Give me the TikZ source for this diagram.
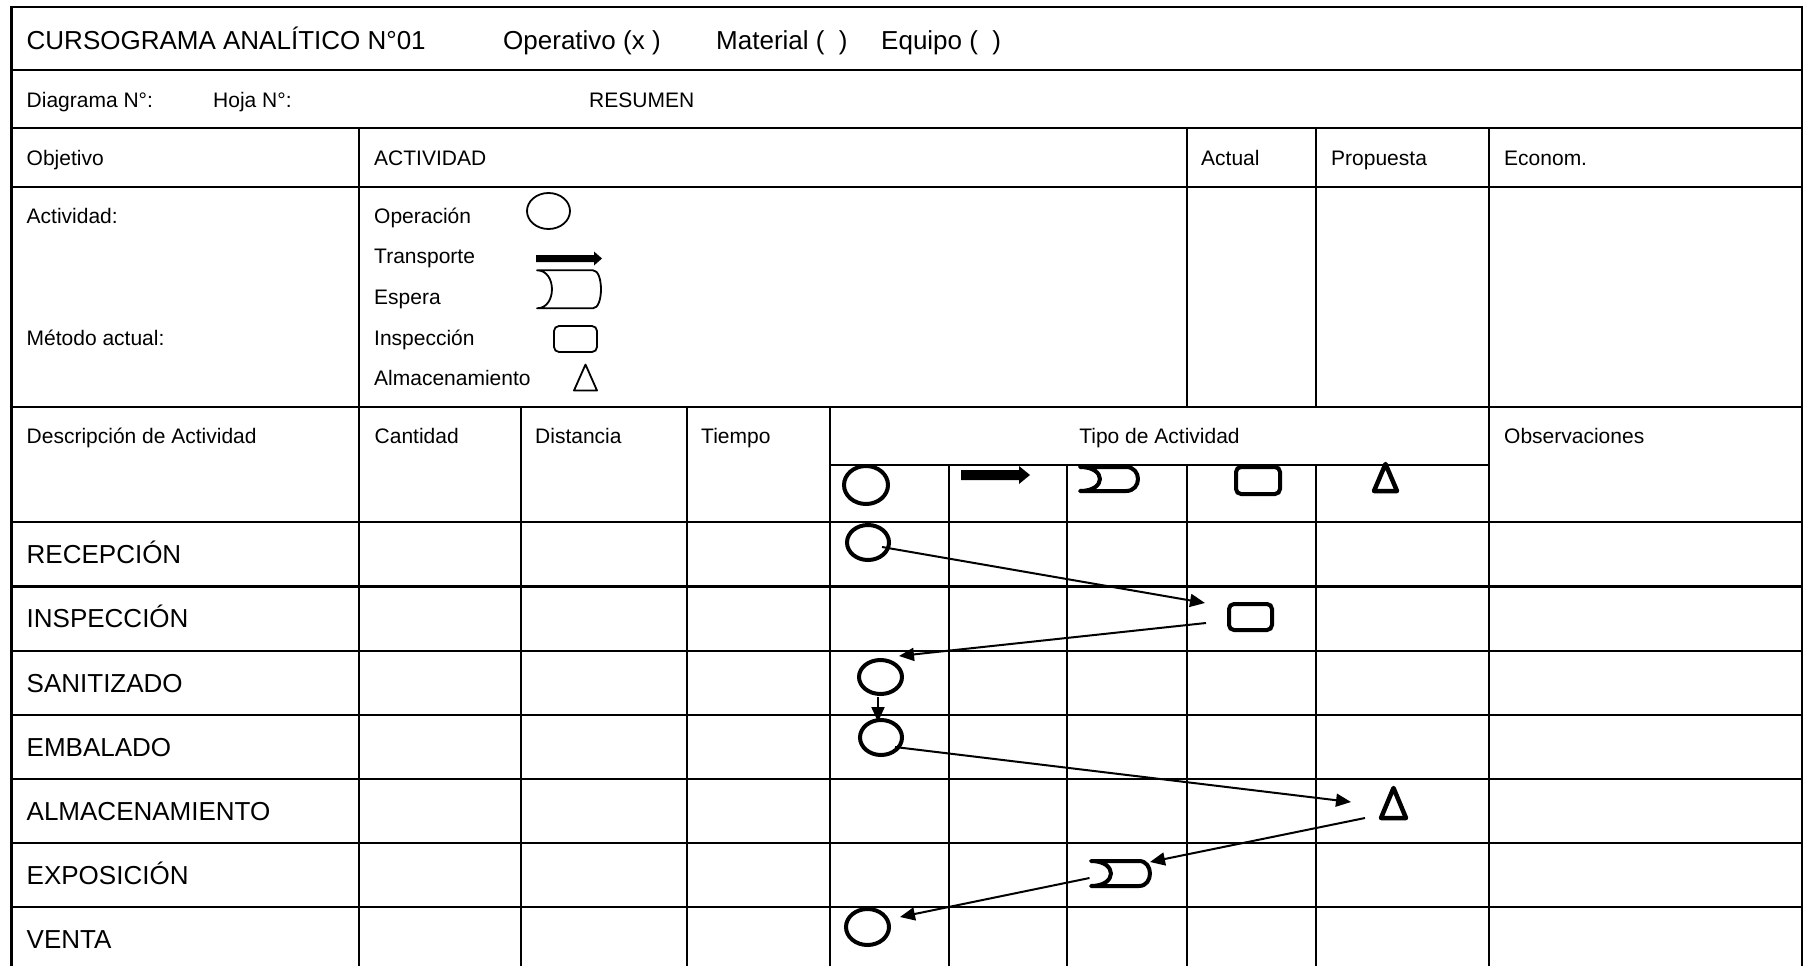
\documentclass[tikz,border=0pt]{standalone}
\usepackage{fontspec}
\setmainfont{Liberation Sans}
\usetikzlibrary{arrows.meta,calc,shapes.geometric}
% delay symbol drawn on a named box node: #1 name, #2 left depth, #3 right bulge, #4 line width
\newcommand\delaysym[4]{%
  \draw[line width=#4, line join=round]
    (#1.north west) -- ($(#1.north east)+(-#3,0)$)
    .. controls ($(#1.north east)+(#3*0.33,0)$) and ($(#1.south east)+(#3*0.33,0)$) .. ($(#1.south east)+(-#3,0)$)
    -- (#1.south west)
    .. controls ($(#1.south west)+(#2*1.33,0)$) and ($(#1.north west)+(#2*1.33,0)$) .. cycle;}
% transport symbol: #1 name, #2 shaft thickness, #3 head width, #4 head length
\newcommand\transpsym[4]{%
  \fill ($(#1.west)+(0,-#2/2)$) -- ($(#1.east)+(-#4,-#2/2)$) -- ($(#1.east)+(-#4,-#3/2)$)
    -- (#1.east) -- ($(#1.east)+(-#4,#3/2)$) -- ($(#1.east)+(-#4,#2/2)$) -- ($(#1.west)+(0,#2/2)$) -- cycle;}
% storage symbol: #1 name, #2 line width
\newcommand\storesym[2]{%
  \draw[line width=#2, line join=round] (#1.north) -- (#1.south east) -- (#1.south west) -- cycle;}
\begin{document}
\begin{tikzpicture}[x=1pt,y=-1pt,
  grid/.style={line width=2.3pt},
  big/.style={anchor=base west, inner sep=0pt, font=\fontsize{26}{30}\selectfont},
  small/.style={anchor=base west, inner sep=0pt, font=\fontsize{21}{25}\selectfont},
  opsym/.style={ellipse, draw, inner sep=0pt, line width=4pt},
  opleg/.style={ellipse, draw, inner sep=0pt, line width=1.8pt},
  inssym/.style={rectangle, rounded corners=5pt, draw, inner sep=0pt, line width=4pt},
  insleg/.style={rectangle, rounded corners=5pt, draw, inner sep=0pt, line width=1.8pt},
  symbox/.style={inner sep=0pt, outer sep=0pt},
  flow/.style={line width=2pt, -{Triangle[length=15pt,width=13pt]}},
]
\useasboundingbox[fill=white] (0,0) rectangle (1808,966);

% ---------- grid ----------
\draw[grid] (11.5,966) -- (11.5,7) -- (1802,7) -- (1802,966);
\foreach \yy in {70,128,187,407,522,586.5,651,715,779,843,907}
  \draw[grid] (11.5,\yy) -- (1802,\yy);
\draw[grid] (830,465) -- (1489,465);
\draw[grid] (359,128) -- (359,966);
\draw[grid] (1489,128) -- (1489,966);
\foreach \xx in {521,687,830}
  \draw[grid] (\xx,407) -- (\xx,966);
\foreach \xx in {949,1067}
  \draw[grid] (\xx,465) -- (\xx,966);
\foreach \xx in {1187,1316} {
  \draw[grid] (\xx,128) -- (\xx,407);
  \draw[grid] (\xx,465) -- (\xx,966);
}

% ---------- header texts ----------
\node[big] (ttl) at (26.5,50) {CURSOGRAMA ANALÍTICO N°01};
\node[big] (oper) at (503,50) {Operativo (x )};
\node[big] (mat) at (716,50) {Material (~~)};
\node[big] (equ) at (881,50) {Equipo (~~)};

\node[small] (diag) at (26.5,107.5) {Diagrama N°:};
\node[small] (hoja) at (213,107.5) {Hoja N°:};
\node[small] (res) at (589,107.5) {RESUMEN};

\node[small] (obj) at (26.5,165) {Objetivo};
\node[small] (act) at (374,165) {ACTIVIDAD};
\node[small] (actual) at (1201,165) {Actual};
\node[small] (prop) at (1331,165) {Propuesta};
\node[small] (econ) at (1504,165) {Econom.};

\node[small] (activ) at (26.5,223) {Actividad:};
\node[small] (metodo) at (26.5,345) {Método actual:};

\node[small] (lop) at (374,223) {Operación};
\node[small] (ltr) at (374,263.7) {Transporte};
\node[small] (les) at (374,304.4) {Espera};
\node[small] (lin) at (374,345) {Inspección};
\node[small] (lal) at (374,385.8) {Almacenamiento};

% legend symbols
\node[opleg, minimum width=43pt, minimum height=36pt] (gop) at (548.5,211) {};
\node[symbox, minimum width=66pt, minimum height=14pt] (gtr) at (569,258.5) {};
\transpsym{gtr}{7}{14}{8}
\node[symbox, minimum width=64pt, minimum height=38pt] (ges) at (569,289.3) {};
\delaysym{ges}{15}{8}{1.8pt}
\node[insleg, minimum width=43pt, minimum height=26pt] (gin) at (575.5,339) {};
\node[symbox, minimum width=23pt, minimum height=26pt] (gal) at (585.5,377.5) {};
\storesym{gal}{1.8pt}

% table header
\node[small] (hdesc) at (26.5,443) {Descripción de Actividad};
\node[small] (hcant) at (374.5,443) {Cantidad};
\node[small] (hdist) at (535,443) {Distancia};
\node[small] (htiem) at (701,443) {Tiempo};
\node[small, anchor=base] (htipo) at (1159.5,443) {Tipo de Actividad};
\node[small] (hobs) at (1504,443) {Observaciones};

% sub-header symbols
\node[opsym, minimum width=44pt, minimum height=38pt] (s0op) at (866,485) {};
\node[symbox, minimum width=69pt, minimum height=18pt] (s0tr) at (995.5,475) {};
\transpsym{s0tr}{10}{18}{11}
\node[symbox, minimum width=58pt, minimum height=24pt] (s0es) at (1109,479) {};
\delaysym{s0es}{20}{12}{4pt}
\node[inssym, minimum width=44pt, minimum height=27pt] (s0in) at (1258,480.5) {};
\node[symbox, minimum width=23pt, minimum height=27pt] (s0al) at (1385.5,477.5) {};
\storesym{s0al}{4.5pt}

% ---------- rows ----------
\node[big] (r1) at (26.5,563) {RECEPCIÓN};
\node[big] (r2) at (26.5,627.5) {INSPECCIÓN};
\node[big] (r3) at (26.5,692) {SANITIZADO};
\node[big] (r4) at (26.5,756) {EMBALADO};
\node[big] (r5) at (26.5,820) {ALMACENAMIENTO};
\node[big] (r6) at (26.5,884) {EXPOSICIÓN};
\node[big] (r7) at (26.5,948) {VENTA};

% flow symbols
\node[opsym, minimum width=42pt, minimum height=35pt] (c1) at (868,542.5) {};
\node[inssym, minimum width=43pt, minimum height=26pt] (i1) at (1250.5,617) {};
\node[opsym, minimum width=43pt, minimum height=34pt] (c2) at (880.5,677) {};
\node[opsym, minimum width=42pt, minimum height=35pt] (c3) at (881,737.5) {};
\node[symbox, minimum width=25pt, minimum height=30pt] (t1) at (1393.5,803) {};
\storesym{t1}{4.5pt}
\node[symbox, minimum width=59pt, minimum height=25pt] (d1) at (1120.5,873.5) {};
\delaysym{d1}{20}{11}{4pt}
\node[opsym, minimum width=43pt, minimum height=36pt] (c4) at (867.5,927) {};

% connectors
\draw[flow] ($(c1.center)+(14,4.5)$) -- ($(i1.center)+(-45.5,-14)$);
\draw[flow] ($(i1.center)+(-44.5,6)$) -- ($(c2.center)+(18.5,-21)$);
\draw[flow] ($(c2.south)+(-2.5,1)$) -- ($(c3.north)+(-3,4)$);
\draw[flow] ($(c3.center)+(14,9.5)$) -- ($(t1.center)+(-42.5,-1)$);
\draw[flow] ($(t1.center)+(-28.5,15)$) -- ($(d1.center)+(29.5,-11.5)$);
\draw[flow] ($(d1.center)+(-31,4.5)$) -- ($(c4.center)+(32.5,-10)$);
\end{tikzpicture}
\end{document}
